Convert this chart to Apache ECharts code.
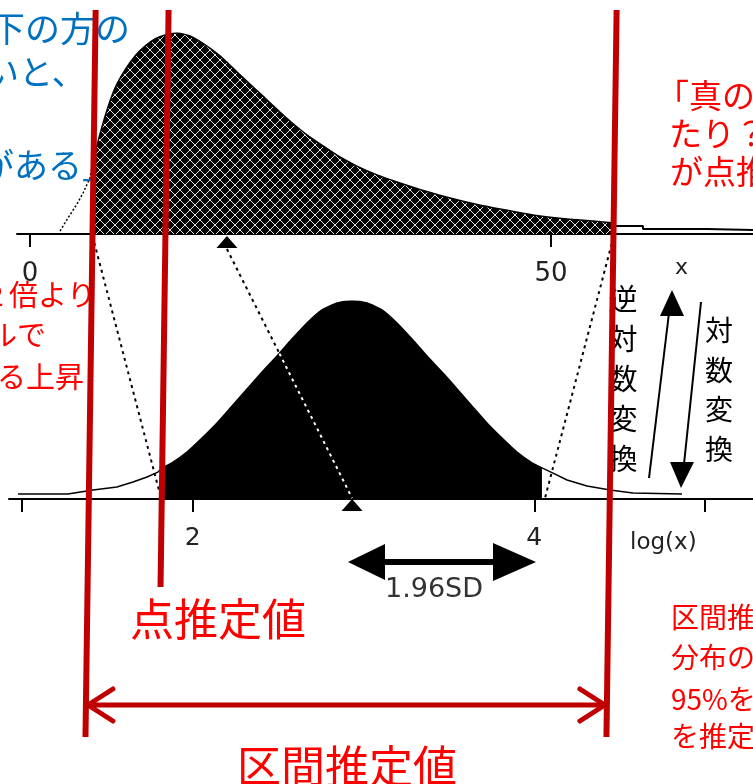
<!DOCTYPE html>
<html>
<head>
<meta charset="utf-8">
<script src="https://cdn.jsdelivr.net/npm/echarts@6/dist/echarts.min.js"></script>
<style>
  html, body { margin: 0; padding: 0; background: #fff; }
  #chart { width: 753px; height: 784px; }
</style>
</head>
<body>
<div id="chart"></div>
<script>
// ---------- data: raw scale x (top panel), relative density 0-100 ----------
const rawLeftTail = [[2.88,1.5],[3.65,8.0],[4.51,14.9],[5.09,20.4],[5.76,27.9],[6.05,35.8]];
const rawBody = [
  [6.05,36.8],[6.72,49.8],[7.39,61.7],[8.16,72.6],[9.12,81.6],[10.08,88.6],[11.04,93.5],
  [12.00,97.0],[12.96,99.0],[14.11,100],[15.36,98.5],[16.99,93.5],[18.23,88.6],[19.87,80.6],
  [21.11,74.6],[22.55,67.7],[23.99,60.7],[24.95,56.2],[26.58,49.3],[28.12,43.8],[29.75,38.3],
  [31.38,33.8],[33.30,29.4],[35.51,25.4],[37.91,21.4],[40.31,17.9],[42.71,14.9],[45.11,12.4],
  [48.27,9.5],[51.54,7.5],[54.03,6.5],[56.05,5.5]
];
const rawRightTail = [[56.05,4.0],[58.83,4.0],[58.83,2.5],[64.97,2.5],[64.97,2.0],[69.39,2.0]];
const rawTicks = [0, 50];
const rawMedian = 18.9;

// ---------- data: log scale x (bottom panel), relative density 0-100 ----------
const logLeftTail = [[0.977,2.5],[1.269,2.5],[1.269,3.5],[1.416,4.5],[1.556,6.1],[1.650,8.6],
  [1.732,11.1],[1.796,13.6],[1.820,15.7]];
const logBody = [
  [1.820,15.7],[1.878,18.2],[1.966,23.7],[2.054,30.8],[2.142,38.4],[2.230,47.0],[2.318,55.6],
  [2.406,64.1],[2.493,72.2],[2.581,80.8],[2.669,88.9],[2.757,95.5],[2.845,99.0],[2.933,100],
  [3.021,99.0],[3.108,95.5],[3.196,88.9],[3.284,80.8],[3.372,72.2],[3.460,64.1],[3.548,55.6],
  [3.635,47.0],[3.723,38.4],[3.811,30.8],[3.899,23.7],[3.987,18.2],[4.045,15.7]
];
const logRightTail = [[4.045,15.7],[4.110,13.1],[4.192,9.6],[4.309,6.6],[4.444,4.5],[4.578,3.0],[4.865,2.5]];
const logTicks = [1, 2, 4, 5];
const logLabels = [2, 4];
const logMean = 2.933;

// ---------- estimates (raw scale) and their log counterparts ----------
const rawLower = 6.0, rawPoint = 13.0, rawUpper = 56.0;
const logLower = 1.814, logUpper = 4.063;

// cross-hatch fill for the raw-scale density
function crossHatch() {
  const p = 10, c = document.createElement('canvas');
  c.width = c.height = p;
  const g = c.getContext('2d');
  g.fillStyle = '#000'; g.fillRect(0, 0, p, p);
  g.strokeStyle = '#e0e0e0'; g.lineWidth = 1;
  for (const k of [-p, 0, p]) {
    g.beginPath(); g.moveTo(k, 0); g.lineTo(k + p, p); g.stroke();
    g.beginPath(); g.moveTo(k + p, 0); g.lineTo(k, p); g.stroke();
  }
  return c;
}

const chart = echarts.init(document.getElementById('chart'), null, { renderer: 'canvas' });

const axisCommon = {
  type: 'value',
  axisLine: { show: true, onZero: false, lineStyle: { color: '#000', width: 2 } },
  splitLine: { show: false }
};

const option = {
  animation: false,
  backgroundColor: '#fff',
  grid: [
    { left: 17, top: 33, width: 736, height: 201, outerBoundsMode: 'none' },
    { left: 9, top: 301, width: 744, height: 198, outerBoundsMode: 'none' }
  ],
  xAxis: [
    Object.assign({}, axisCommon, {
      gridIndex: 0, min: -1.248, max: 69.39,
      axisTick: { show: true, customValues: rawTicks, length: 13, lineStyle: { color: '#000', width: 2 } },
      axisLabel: { show: true, customValues: rawTicks, margin: 27, fontSize: 26, color: '#222', fontFamily: 'DejaVu Sans' }
    }),
    Object.assign({}, axisCommon, {
      gridIndex: 1, min: 0.9239, max: 5.281,
      axisTick: { show: true, customValues: logTicks, length: 13, lineStyle: { color: '#000', width: 2 } },
      axisLabel: { show: true, customValues: logLabels, margin: 27, fontSize: 25, color: '#222', fontFamily: 'DejaVu Sans' }
    })
  ],
  yAxis: [
    { gridIndex: 0, type: 'value', min: 0, max: 100, show: false },
    { gridIndex: 1, type: 'value', min: 0, max: 100, show: false }
  ],
  series: [
    { type: 'line', xAxisIndex: 0, yAxisIndex: 0, data: rawLeftTail, showSymbol: false,
      lineStyle: { color: '#000', width: 1.5, type: [2, 2] } },
    { type: 'line', xAxisIndex: 0, yAxisIndex: 0, data: rawBody, showSymbol: false, smooth: 0.2,
      lineStyle: { color: '#000', width: 1.5 },
      areaStyle: { color: { image: crossHatch(), repeat: 'repeat' }, opacity: 1 } },
    { type: 'line', xAxisIndex: 0, yAxisIndex: 0, data: rawRightTail, showSymbol: false,
      lineStyle: { color: '#000', width: 2 } },
    { type: 'line', xAxisIndex: 1, yAxisIndex: 1, data: logLeftTail, showSymbol: false,
      lineStyle: { color: '#000', width: 1.5 } },
    { type: 'line', xAxisIndex: 1, yAxisIndex: 1, data: logBody, showSymbol: false, smooth: 0.2,
      lineStyle: { color: '#000', width: 1.5 },
      areaStyle: { color: '#000', opacity: 1 } },
    { type: 'line', xAxisIndex: 1, yAxisIndex: 1, data: logRightTail, showSymbol: false,
      lineStyle: { color: '#000', width: 1.5 } },
    { type: 'scatter', xAxisIndex: 0, yAxisIndex: 0, data: [[rawMedian, 0]], clip: false,
      symbol: 'triangle', symbolSize: [21, 12], symbolOffset: [0, 8],
      itemStyle: { color: '#000', opacity: 1 }, z: 5 },
    { type: 'scatter', xAxisIndex: 1, yAxisIndex: 1, data: [[logMean, 0]], clip: false,
      symbol: 'triangle', symbolSize: [21, 12], symbolOffset: [0, 6],
      itemStyle: { color: '#000', opacity: 1 }, z: 5 }
  ]
};
chart.setOption(option);

// ---------- annotation layer ----------
const xPix = (axis, v) => chart.convertToPixel({ xAxisIndex: axis }, v);
const topAxisY = chart.convertToPixel({ yAxisIndex: 0 }, 0);
const botAxisY = chart.convertToPixel({ yAxisIndex: 1 }, 0);

function interp(pts, x) {
  for (let i = 0; i < pts.length - 1; i++) {
    const [x0, y0] = pts[i], [x1, y1] = pts[i + 1];
    if (x >= x0 && x <= x1) return y0 + (y1 - y0) * (x - x0) / ((x1 - x0) || 1);
  }
  return 0;
}

const RED = '#c00000', TXT_RED = '#ff0000', BLUE = '#0070c0';
const CJK = '"Noto Sans CJK JP"';
const g = [];

// dotted connectors between the two scales
const dash = { stroke: '#000', lineWidth: 2, lineDash: [3, 4] };
function connector(vTop, vBot, y0) {
  return { a: [xPix(0, vTop), y0], b: [xPix(1, vBot), botAxisY - 1] };
}
const c1 = connector(rawLower, logLower, topAxisY + 2);
const c2 = connector(rawMedian, logMean, topAxisY + 15);
const c3 = connector(rawUpper, logUpper, topAxisY + 3);
g.push({ type: 'line', shape: { x1: c1.a[0], y1: c1.a[1], x2: c1.b[0], y2: c1.b[1] }, style: dash, z: 10 });
g.push({ type: 'line', shape: { x1: c3.a[0], y1: c3.a[1], x2: c3.b[0], y2: c3.b[1] }, style: dash, z: 10 });
// the median connector turns white where it crosses the filled bell
let split = 1;
for (let t = 0; t <= 1; t += 0.002) {
  const p = [c2.a[0] + (c2.b[0] - c2.a[0]) * t, c2.a[1] + (c2.b[1] - c2.a[1]) * t];
  const d = chart.convertFromPixel({ xAxisIndex: 1, yAxisIndex: 1 }, p);
  if (d[1] <= interp(logBody, d[0])) { split = t; break; }
}
const sp = [c2.a[0] + (c2.b[0] - c2.a[0]) * split, c2.a[1] + (c2.b[1] - c2.a[1]) * split];
g.push({ type: 'line', shape: { x1: c2.a[0], y1: c2.a[1], x2: sp[0], y2: sp[1] }, style: dash, z: 10 });
g.push({ type: 'line', shape: { x1: sp[0], y1: sp[1], x2: c2.b[0], y2: c2.b[1] },
  style: Object.assign({}, dash, { stroke: '#fff' }), z: 10 });

// 1.96SD double arrow
g.push({ type: 'line', shape: { x1: 380, y1: 562, x2: 497, y2: 562 }, style: { stroke: '#000', lineWidth: 6 }, z: 10 });
g.push({ type: 'polygon', shape: { points: [[348, 562], [385, 544], [385, 580]] }, style: { fill: '#000' }, z: 10 });
g.push({ type: 'polygon', shape: { points: [[536, 562], [493, 543], [493, 581]] }, style: { fill: '#000' }, z: 10 });

// transform arrows
g.push({ type: 'line', shape: { x1: 649, y1: 478, x2: 669, y2: 313 }, style: { stroke: '#000', lineWidth: 2 }, z: 10 });
g.push({ type: 'polygon', shape: { points: [[672, 290], [660, 316], [684, 316]] }, style: { fill: '#000' }, z: 10 });
g.push({ type: 'line', shape: { x1: 701, y1: 302, x2: 684, y2: 464 }, style: { stroke: '#000', lineWidth: 2 }, z: 10 });
g.push({ type: 'polygon', shape: { points: [[681, 488], [670, 462], [694, 462]] }, style: { fill: '#000' }, z: 10 });

// labels
function txt(text, x, y, font, fill, extra) {
  g.push({ type: 'text', z: 20, style: Object.assign({ text, x, y, font, fill, verticalAlign: 'middle', align: 'left' }, extra || {}) });
}
txt('x', 675, 268, '22px "DejaVu Sans"', '#222');
txt('log(x)', 630, 543, '23px "DejaVu Sans"', '#222');
txt('1.96SD', 385, 590, '27px "DejaVu Sans"', '#333');
txt('逆\n対\n数\n変\n換', 623, 279, '29px ' + CJK, '#000', { align: 'center', verticalAlign: 'top', lineHeight: 40 });
txt('対\n数\n変\n換', 719, 311, '28px ' + CJK, '#000', { align: 'center', verticalAlign: 'top', lineHeight: 39.5 });

// blue note (top left)
txt('下の方の', -10, 29, '35px ' + CJK, BLUE);
txt('いと、', -15, 72, '34px ' + CJK, BLUE);
txt('がある」', -20, 165, '34px ' + CJK, BLUE);

// red notes
txt('「真の', 656, 95, '33px ' + CJK, TXT_RED);
txt('たり？', 669, 133, '33px ' + CJK, TXT_RED);
txt('が点推', 670, 171, '33px ' + CJK, TXT_RED);
txt('２倍より', -20, 295, '29px ' + CJK, TXT_RED);
txt('ルで', -12, 335, '29px ' + CJK, TXT_RED);
txt('る上昇', -3, 377, '29px ' + CJK, TXT_RED);
txt('区間推', 671, 617, '28px ' + CJK, TXT_RED);
txt('分布の', 671, 657, '28px ' + CJK, TXT_RED);
txt('95%を', 671, 699, '28px ' + CJK, TXT_RED);
txt('を推定', 671, 736, '28px ' + CJK, TXT_RED);
txt('点推定値', 130, 619, '44px ' + CJK, TXT_RED);
txt('区間推定値', 237, 766, '44px ' + CJK, TXT_RED);

// estimate lines, drawn slightly slanted across both panels
const slant = -0.014;
function estLine(v, yBottom) {
  const x0 = xPix(0, v);
  const at = y => x0 + slant * (y - topAxisY);
  g.push({ type: 'line', shape: { x1: at(10), y1: 10, x2: at(yBottom), y2: yBottom },
    style: { stroke: RED, lineWidth: 6 }, z: 50 });
  return at;
}
const leftAt = estLine(rawLower, 737);
estLine(rawPoint, 587);
const rightAt = estLine(rawUpper, 737);

// interval double arrow
const ay = 705, la = leftAt(ay) + 2, ra = rightAt(ay) - 2;
const redStroke = { stroke: RED, lineWidth: 5, lineCap: 'round', lineJoin: 'round', fill: null };
g.push({ type: 'line', shape: { x1: la, y1: ay, x2: ra, y2: ay }, style: redStroke, z: 50 });
g.push({ type: 'polyline', shape: { points: [[la + 25, ay - 16], [la, ay], [la + 25, ay + 16]] }, style: redStroke, z: 50 });
g.push({ type: 'polyline', shape: { points: [[ra - 25, ay - 16], [ra, ay], [ra - 25, ay + 16]] }, style: redStroke, z: 50 });

chart.setOption({ graphic: { elements: g } });
</script>
</body>
</html>
